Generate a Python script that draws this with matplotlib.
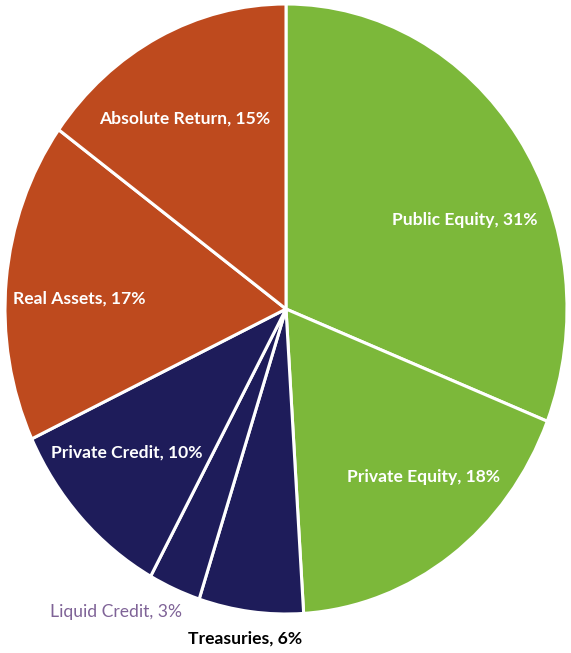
import numpy as np
import matplotlib
matplotlib.use('Agg')
import matplotlib.pyplot as plt

# allocation by asset class, clockwise from 12 o'clock
labels = ['Public Equity', 'Private Equity', 'Treasuries', 'Liquid Credit',
          'Private Credit', 'Real Assets', 'Absolute Return']
shares = [31, 18, 6, 3, 10, 17, 15]

green = '#7cb83a'
navy = '#1e1c5a'
rust = '#be4a1e'
colors = [green, green, navy, navy, navy, rust, rust]

# label anchor points (data units, pie radius = 1), text colours and weights
label_xy = [(0.637, 0.292), (0.491, -0.551), (-0.146, -1.079), (-0.605, -0.993),
            (-0.566, -0.469), (-0.737, 0.036), (-0.359, 0.626)]
label_col = ['white', 'white', 'black', '#7f6397', 'white', 'white', 'white']
label_wt = ['bold', 'bold', 'bold', 'normal', 'bold', 'bold', 'bold']

fig = plt.figure(figsize=(5.71, 6.53), dpi=100)
ax = fig.add_axes([0, 0, 1, 1])

ax.pie(shares, colors=colors, startangle=90, counterclock=False,
       wedgeprops=dict(edgecolor='white', linewidth=2.2))

for name, v, (x, y), c, w in zip(labels, shares, label_xy, label_col, label_wt):
    ax.text(x, y, f'{name}, {v}%', ha='center', va='center', color=c,
            fontsize=12.6, fontweight=w, family=['Lato', 'DejaVu Sans'])

# the pie is drawn slightly taller than wide
ax.set_aspect('auto')
ax.set_xlim(-286/281, (571-286)/281)
ax.set_ylim(-(653-309)/305, 309/305)
ax.axis('off')

fig.savefig('out.png', dpi=100)
